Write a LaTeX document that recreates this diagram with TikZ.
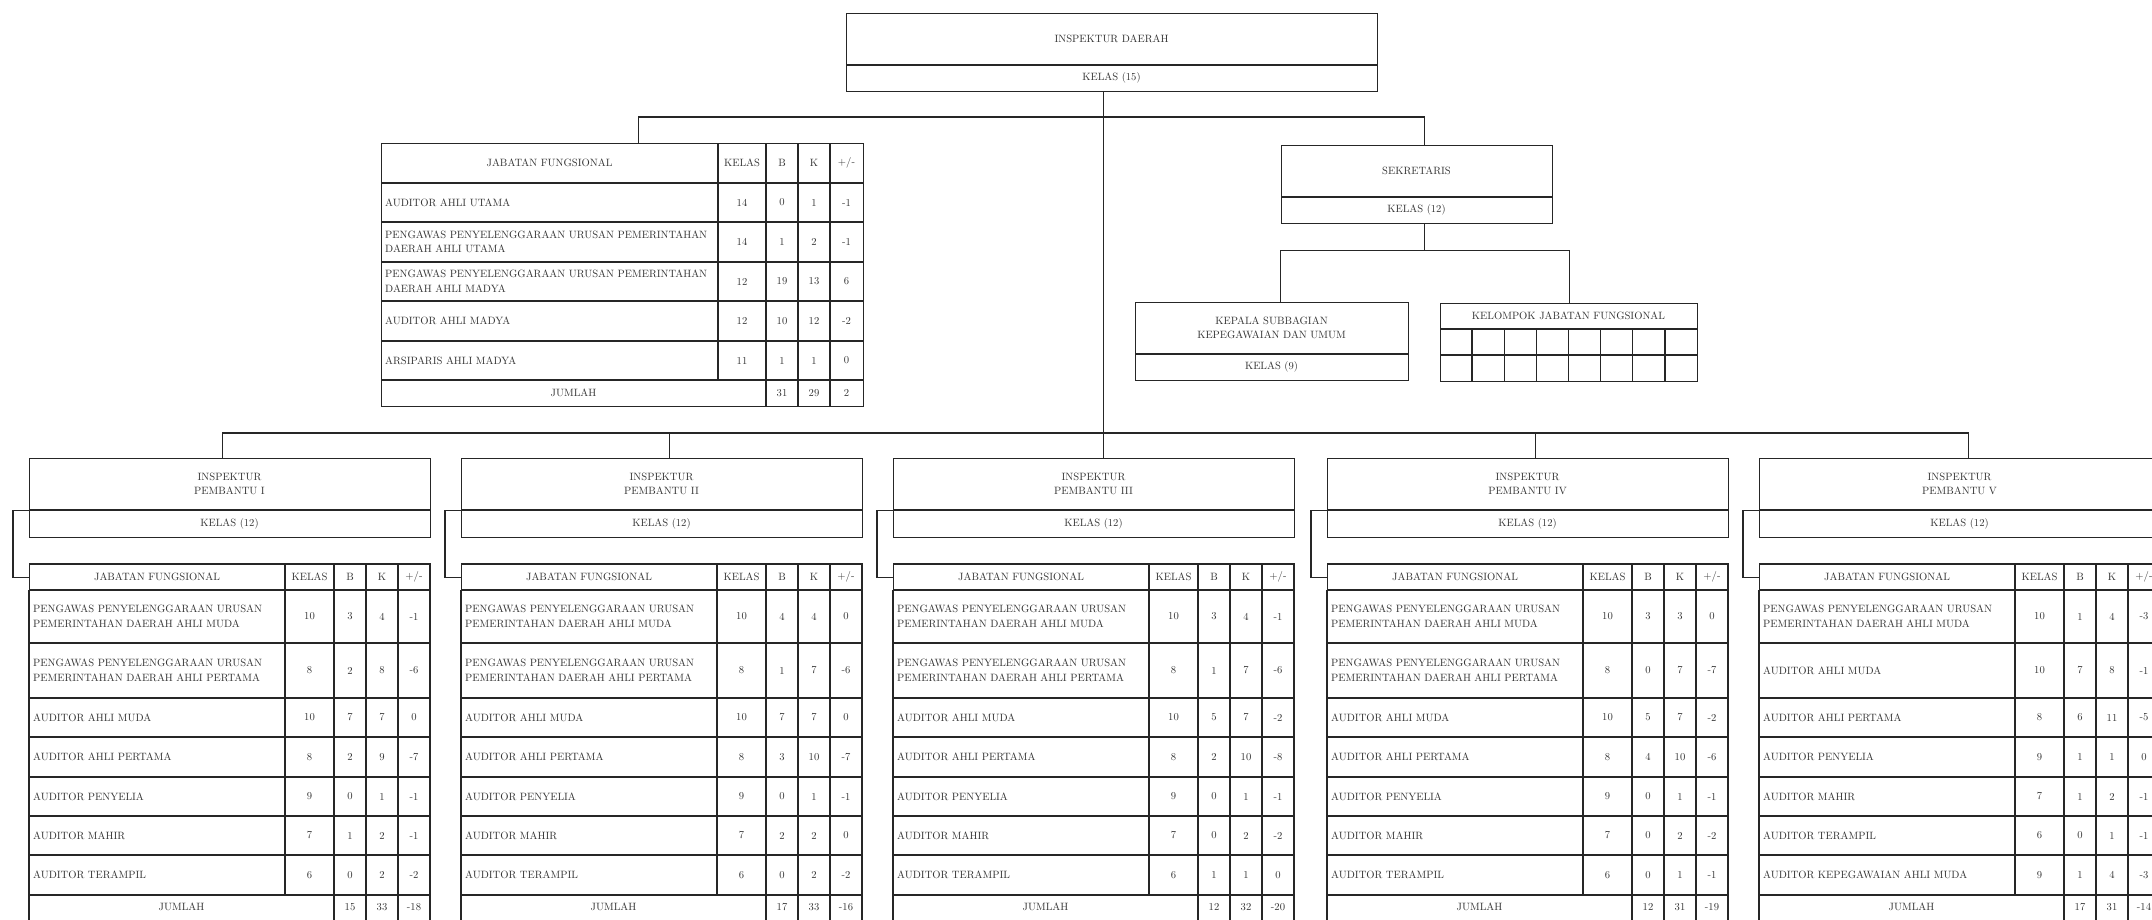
\documentclass[tikz,border=0pt]{standalone}
\usepackage{fontspec}
\tikzset{
  garis/.style={draw=black!85, line width=1.3pt},
  kotak/.style={garis, inner sep=0pt, anchor=north west},
  teks/.style={font=\fontsize{10.6}{14.5}\selectfont, text=black!80, inner sep=0pt, align=center},
  kiri/.style={teks, anchor=west, align=left}
}
\begin{document}
\begin{tikzpicture}[x=1pt, y=-1pt]
\useasboundingbox (0,0) rectangle (2152,919);
\clip (0,0) rectangle (2152,919);
\fill[white] (0,0) rectangle (2152,919);

% inspektur daerah
\node[kotak, minimum width=531pt, minimum height=78pt] (daerah) at (846,13) {};
\draw[garis] (846,65) -- (1377,65);
\node[teks] (daerahnama) at (1111.5,39) {INSPEKTUR DAERAH};
\node[teks] (daerahkelas) at (1111.5,78) {KELAS (15)};

% tabel jabatan fungsional atas
\node[kotak, minimum width=482pt, minimum height=263pt] (jfatas) at (381,143) {};
\foreach \y in {183,222,262,301,341,380} \draw[garis] (381,\y) -- (863,\y);
\draw[garis] (718,143) -- (718,380);
\foreach \x in {766,798,830} \draw[garis] (\x,143) -- (\x,406);
\node[teks] (atasjudul) at (549.5,163) {JABATAN FUNGSIONAL};
\node[teks] (ataskelas) at (742,163) {KELAS};
\node[teks] (atasb) at (782,163) {B};
\node[teks] (atask) at (814,163) {K};
\node[teks] (atassel) at (846.5,163) {+/-};
\foreach \y/\nama/\kls/\vb/\vk/\vs [count=\j] in {
  202.5/{AUDITOR AHLI UTAMA}/14/0/1/-1,
  242/{PENGAWAS PENYELENGGARAAN URUSAN PEMERINTAHAN\\DAERAH AHLI UTAMA}/14/1/2/-1,
  281.5/{PENGAWAS PENYELENGGARAAN URUSAN PEMERINTAHAN\\DAERAH AHLI MADYA}/12/19/13/6,
  321/{AUDITOR AHLI MADYA}/12/10/12/-2,
  360.5/{ARSIPARIS AHLI MADYA}/11/1/1/0}
{
  \node[kiri] (atasnama\j) at (385,\y) {\nama};
  \node[teks] (ataskls\j) at (742,\y) {\kls};
  \node[teks] (atasb\j) at (782,\y) {\vb};
  \node[teks] (atask\j) at (814,\y) {\vk};
  \node[teks] (atass\j) at (846.5,\y) {\vs};
}
\node[teks] (atasjumlah) at (573.5,393) {JUMLAH};
\node[teks] (atasjb) at (782,393) {31};
\node[teks] (atasjk) at (814,393) {29};
\node[teks] (atasjs) at (846.5,393) {2};

% sekretaris
\node[kotak, minimum width=271pt, minimum height=78pt] (sek) at (1281,145) {};
\draw[garis] (1281,197) -- (1552,197);
\node[teks] (seknama) at (1416.5,171) {SEKRETARIS};
\node[teks] (sekkelas) at (1416.5,210) {KELAS (12)};

\node[kotak, minimum width=273pt, minimum height=78pt] (kepala) at (1135,302) {};
\draw[garis] (1135,354) -- (1408,354);
\node[teks] (kepalanama) at (1271.5,328) {KEPALA SUBBAGIAN\\KEPEGAWAIAN DAN UMUM};
\node[teks] (kepalakelas) at (1271.5,367) {KELAS (9)};

\node[kotak, minimum width=257pt, minimum height=78pt] (kelompok) at (1440,303) {};
\draw[garis] (1440,329) -- (1697,329);
\draw[garis] (1440,355) -- (1697,355);
\foreach \c in {1,...,7} \draw[garis] (1440+\c*32.125,329) -- (1440+\c*32.125,381);
\node[teks] (kelompoknama) at (1568.5,316) {KELOMPOK JABATAN FUNGSIONAL};

% inspektur pembantu
\foreach \x/\r [count=\i] in {29/I,461/II,893/III,1327/IV,1759/V}{
  \begin{scope}[shift={(\x,0)}]
    \node[kotak, minimum width=401pt, minimum height=79pt] (pb\i) at (0,458) {};
    \draw[garis] (0,510) -- (401,510);
    \node[teks] (pbnama\i) at (200.5,484) {INSPEKTUR\\PEMBANTU \r};
    \node[teks] (pbkelas\i) at (200.5,523.5) {KELAS (12)};
    \node[kotak, minimum width=256pt, minimum height=26pt] (jf\i) at (0,564) {};
    \draw[garis] (0,564) -- (401,564) -- (401,925) (0,590) -- (0,925);
    \foreach \y in {590,643,698,737,777,816,855,895} \draw[garis] (0,\y) -- (401,\y);
    \draw[garis] (256,564) -- (256,895);
    \foreach \xx in {305,337,369} \draw[garis] (\xx,564) -- (\xx,925);
    \node[teks] (jfjudul\i) at (128,577) {JABATAN FUNGSIONAL};
    \node[teks] (jfkelas\i) at (280.5,577) {KELAS};
    \node[teks] (jfb\i) at (321,577) {B};
    \node[teks] (jfk\i) at (353,577) {K};
    \node[teks] (jfs\i) at (385,577) {+/-};
    \node[teks] (jumlah\i) at (152.5,907) {JUMLAH};
  \end{scope}
  \draw[garis] ([yshift=-12.5pt]pb\i.west) -- ++(-16,0) |- (jf\i.west);
}

% garis penghubung
\draw[garis] ([xshift=-9pt]daerah.south) -- ([xshift=9pt]pb3.north);
\draw[garis] ([xshift=16pt]jfatas.north) -- ++(0,-26) -| ([xshift=7.5pt]sek.north);
\draw[garis] ([xshift=7.5pt]sek.south) -- ++(0,26) -| ([xshift=8.5pt]kepala.north);
\draw[garis] ([xshift=7.5pt]sek.south) ++(0,26) -| (kelompok.north);
\draw[garis] ([xshift=-7.5pt]pb1.north) -- ++(0,-25) -| ([xshift=8.5pt]pb5.north);
\draw[garis] ([xshift=7.5pt]pb2.north) -- ++(0,-25);
\draw[garis] ([xshift=7.5pt]pb4.north) -- ++(0,-25);

% isi pembantu I
\begin{scope}[shift={(29,0)}]
\foreach \y/\nama/\kls/\vb/\vk/\vs [count=\j] in {
  616.5/{PENGAWAS PENYELENGGARAAN URUSAN\\PEMERINTAHAN DAERAH AHLI MUDA}/10/3/4/-1,
  670.5/{PENGAWAS PENYELENGGARAAN URUSAN\\PEMERINTAHAN DAERAH AHLI PERTAMA}/8/2/8/-6,
  717.5/{AUDITOR AHLI MUDA}/10/7/7/0,
  757/{AUDITOR AHLI PERTAMA}/8/2/9/-7,
  796.5/{AUDITOR PENYELIA}/9/0/1/-1,
  835.5/{AUDITOR MAHIR}/7/1/2/-1,
  875/{AUDITOR TERAMPIL}/6/0/2/-2}
{
  \node[kiri] (p1nama\j) at (4,\y) {\nama};
  \node[teks] (p1kls\j) at (280.5,\y) {\kls};
  \node[teks] (p1b\j) at (321,\y) {\vb};
  \node[teks] (p1k\j) at (353,\y) {\vk};
  \node[teks] (p1s\j) at (385,\y) {\vs};
}
\node[teks] (p1jb) at (321,907) {15};
\node[teks] (p1jk) at (353,907) {33};
\node[teks] (p1js) at (385,907) {-18};
\end{scope}

% isi pembantu II
\begin{scope}[shift={(461,0)}]
\foreach \y/\nama/\kls/\vb/\vk/\vs [count=\j] in {
  616.5/{PENGAWAS PENYELENGGARAAN URUSAN\\PEMERINTAHAN DAERAH AHLI MUDA}/10/4/4/0,
  670.5/{PENGAWAS PENYELENGGARAAN URUSAN\\PEMERINTAHAN DAERAH AHLI PERTAMA}/8/1/7/-6,
  717.5/{AUDITOR AHLI MUDA}/10/7/7/0,
  757/{AUDITOR AHLI PERTAMA}/8/3/10/-7,
  796.5/{AUDITOR PENYELIA}/9/0/1/-1,
  835.5/{AUDITOR MAHIR}/7/2/2/0,
  875/{AUDITOR TERAMPIL}/6/0/2/-2}
{
  \node[kiri] (p2nama\j) at (4,\y) {\nama};
  \node[teks] (p2kls\j) at (280.5,\y) {\kls};
  \node[teks] (p2b\j) at (321,\y) {\vb};
  \node[teks] (p2k\j) at (353,\y) {\vk};
  \node[teks] (p2s\j) at (385,\y) {\vs};
}
\node[teks] (p2jb) at (321,907) {17};
\node[teks] (p2jk) at (353,907) {33};
\node[teks] (p2js) at (385,907) {-16};
\end{scope}

% isi pembantu III
\begin{scope}[shift={(893,0)}]
\foreach \y/\nama/\kls/\vb/\vk/\vs [count=\j] in {
  616.5/{PENGAWAS PENYELENGGARAAN URUSAN\\PEMERINTAHAN DAERAH AHLI MUDA}/10/3/4/-1,
  670.5/{PENGAWAS PENYELENGGARAAN URUSAN\\PEMERINTAHAN DAERAH AHLI PERTAMA}/8/1/7/-6,
  717.5/{AUDITOR AHLI MUDA}/10/5/7/-2,
  757/{AUDITOR AHLI PERTAMA}/8/2/10/-8,
  796.5/{AUDITOR PENYELIA}/9/0/1/-1,
  835.5/{AUDITOR MAHIR}/7/0/2/-2,
  875/{AUDITOR TERAMPIL}/6/1/1/0}
{
  \node[kiri] (p3nama\j) at (4,\y) {\nama};
  \node[teks] (p3kls\j) at (280.5,\y) {\kls};
  \node[teks] (p3b\j) at (321,\y) {\vb};
  \node[teks] (p3k\j) at (353,\y) {\vk};
  \node[teks] (p3s\j) at (385,\y) {\vs};
}
\node[teks] (p3jb) at (321,907) {12};
\node[teks] (p3jk) at (353,907) {32};
\node[teks] (p3js) at (385,907) {-20};
\end{scope}

% isi pembantu IV
\begin{scope}[shift={(1327,0)}]
\foreach \y/\nama/\kls/\vb/\vk/\vs [count=\j] in {
  616.5/{PENGAWAS PENYELENGGARAAN URUSAN\\PEMERINTAHAN DAERAH AHLI MUDA}/10/3/3/0,
  670.5/{PENGAWAS PENYELENGGARAAN URUSAN\\PEMERINTAHAN DAERAH AHLI PERTAMA}/8/0/7/-7,
  717.5/{AUDITOR AHLI MUDA}/10/5/7/-2,
  757/{AUDITOR AHLI PERTAMA}/8/4/10/-6,
  796.5/{AUDITOR PENYELIA}/9/0/1/-1,
  835.5/{AUDITOR MAHIR}/7/0/2/-2,
  875/{AUDITOR TERAMPIL}/6/0/1/-1}
{
  \node[kiri] (p4nama\j) at (4,\y) {\nama};
  \node[teks] (p4kls\j) at (280.5,\y) {\kls};
  \node[teks] (p4b\j) at (321,\y) {\vb};
  \node[teks] (p4k\j) at (353,\y) {\vk};
  \node[teks] (p4s\j) at (385,\y) {\vs};
}
\node[teks] (p4jb) at (321,907) {12};
\node[teks] (p4jk) at (353,907) {31};
\node[teks] (p4js) at (385,907) {-19};
\end{scope}

% isi pembantu V
\begin{scope}[shift={(1759,0)}]
\foreach \y/\nama/\kls/\vb/\vk/\vs [count=\j] in {
  616.5/{PENGAWAS PENYELENGGARAAN URUSAN\\PEMERINTAHAN DAERAH AHLI MUDA}/10/1/4/-3,
  670.5/{AUDITOR AHLI MUDA}/10/7/8/-1,
  717.5/{AUDITOR AHLI PERTAMA}/8/6/11/-5,
  757/{AUDITOR PENYELIA}/9/1/1/0,
  796.5/{AUDITOR MAHIR}/7/1/2/-1,
  835.5/{AUDITOR TERAMPIL}/6/0/1/-1,
  875/{AUDITOR KEPEGAWAIAN AHLI MUDA}/9/1/4/-3}
{
  \node[kiri] (p5nama\j) at (4,\y) {\nama};
  \node[teks] (p5kls\j) at (280.5,\y) {\kls};
  \node[teks] (p5b\j) at (321,\y) {\vb};
  \node[teks] (p5k\j) at (353,\y) {\vk};
  \node[teks] (p5s\j) at (385,\y) {\vs};
}
\node[teks] (p5jb) at (321,907) {17};
\node[teks] (p5jk) at (353,907) {31};
\node[teks] (p5js) at (385,907) {-14};
\end{scope}
\end{tikzpicture}
\end{document}
